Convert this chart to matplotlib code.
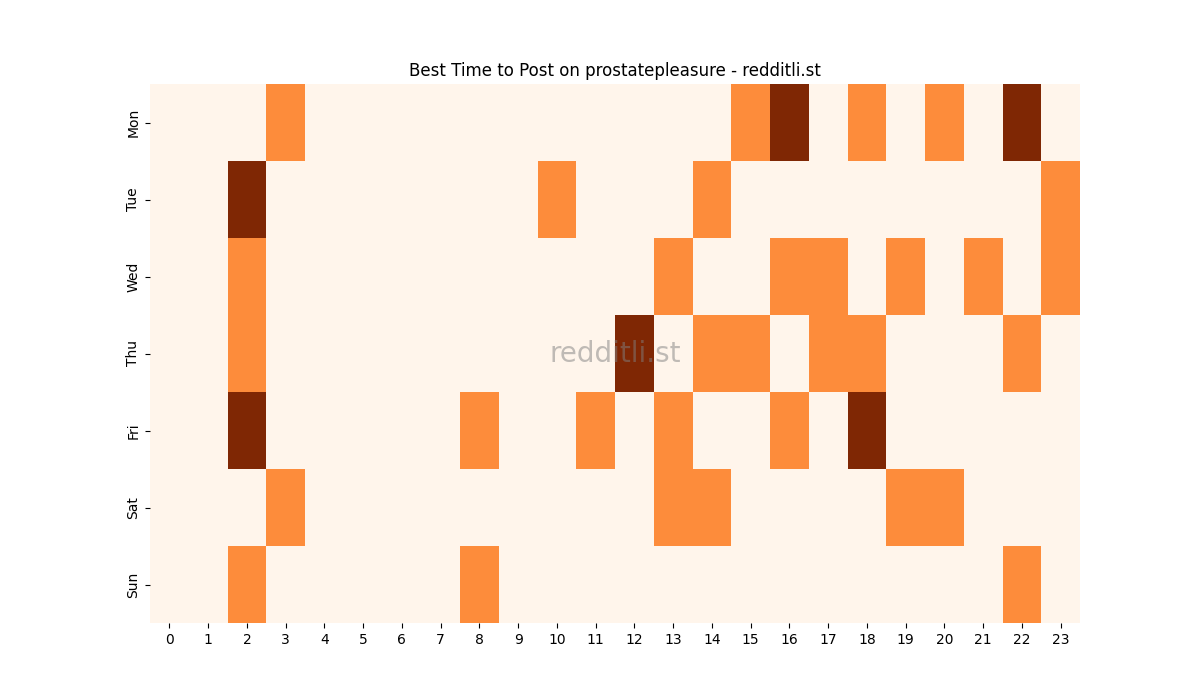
import matplotlib
matplotlib.use("Agg")
import matplotlib.pyplot as plt
import seaborn as sns
import numpy as np

days = ["Mon", "Tue", "Wed", "Thu", "Fri", "Sat", "Sun"]
hours = list(range(24))

mon = [0,0,0,1,0,0,0,0,0,0,0,0,0,0,0,1,2,0,1,0,1,0,2,0]
tue = [0,0,2,0,0,0,0,0,0,0,1,0,0,0,1,0,0,0,0,0,0,0,0,1]
wed = [0,0,1,0,0,0,0,0,0,0,0,0,0,1,0,0,1,1,0,1,0,1,0,1]
thu = [0,0,1,0,0,0,0,0,0,0,0,0,2,0,1,1,0,1,1,0,0,0,1,0]
fri = [0,0,2,0,0,0,0,0,1,0,0,1,0,1,0,0,1,0,2,0,0,0,0,0]
sat = [0,0,0,1,0,0,0,0,0,0,0,0,0,1,1,0,0,0,0,1,1,0,0,0]
sun = [0,0,1,0,0,0,0,0,1,0,0,0,0,0,0,0,0,0,0,0,0,0,1,0]

data = np.array([mon, tue, wed, thu, fri, sat, sun])

fig, ax = plt.subplots(figsize=(12, 7), dpi=100)
sns.heatmap(data, cmap="Oranges", cbar=False, ax=ax,
            xticklabels=hours, yticklabels=days)
ax.set_title("Best Time to Post on prostatepleasure - redditli.st")
plt.setp(ax.get_yticklabels(), rotation=90, va="center")
plt.setp(ax.get_xticklabels(), rotation=0)
ax.text(0.5, 0.5, "redditli.st", transform=ax.transAxes, fontsize=20,
        color="gray", alpha=0.5, ha="center", va="center")
fig.savefig("out.png")
